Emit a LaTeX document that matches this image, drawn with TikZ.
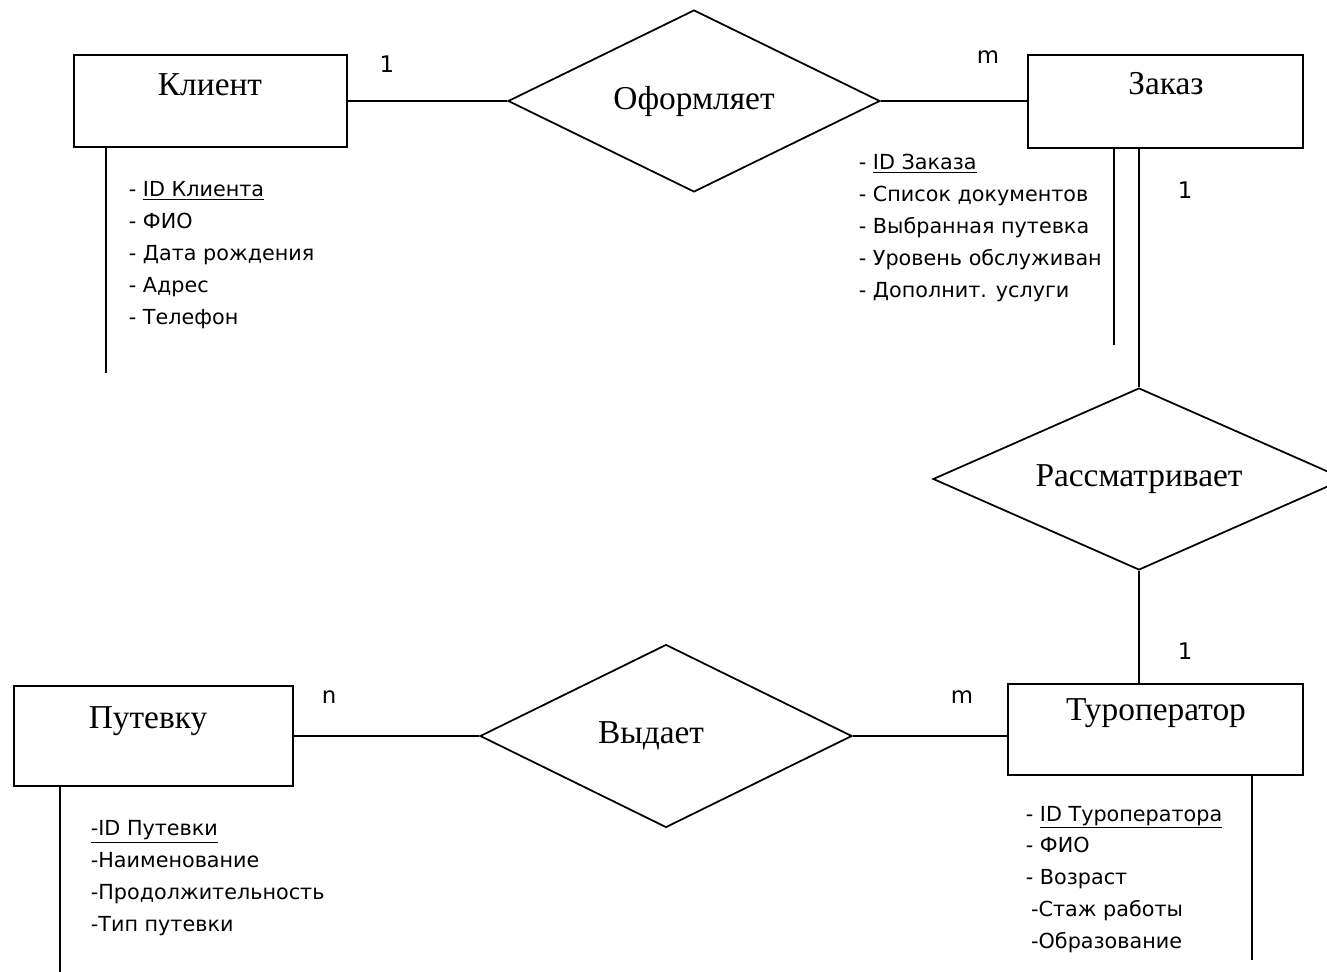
\documentclass[tikz,border=0pt]{standalone}
\usepackage{fontspec}
\setmainfont{Liberation Serif}
\newfontfamily\attrfont{DejaVu Sans}
\usetikzlibrary{shapes.geometric}

\begin{document}
\begin{tikzpicture}
[
    x=0.02cm, y=-0.02cm,
    line width=1pt,
    entity/.style={draw, rectangle, inner sep=0pt},
    relation/.style={draw, diamond, inner sep=0pt, font=\fontsize{19}{22}\selectfont},
    title/.style={font=\fontsize{19}{22}\selectfont, inner sep=0pt},
    attrs/.style={anchor=north west, align=left, inner sep=0pt,
        font=\attrfont\fontsize{11.8}{18.2}\selectfont},
    card/.style={font=\attrfont\fontsize{13}{14}\selectfont, inner sep=0pt},
]
\useasboundingbox (0,0) rectangle (1327,972);
\clip (0,0) rectangle (1327,972);

\node [entity, minimum width=5.46cm, minimum height=1.84cm] (klient) at (210.5,101) {};
\node [title] (klientT) at (210,85) {Клиент};
\node [entity, minimum width=5.5cm, minimum height=1.86cm] (zakaz) at (1165.5,101.5) {};
\node [title] (zakazT) at (1166,84) {Заказ};
\node [entity, minimum width=5.58cm, minimum height=2cm] (putevka) at (153.5,736) {};
\node [title] (putevkaT) at (148,721) {Путевку};
\node [entity, minimum width=5.9cm, minimum height=1.82cm] (tour) at (1155.5,729.5) {};
\node [title] (tourT) at (1156,713) {Туроператор};

\node [relation, aspect=2.04, minimum width=7.44cm, minimum height=3.64cm] (oform) at (694,101) {Оформляет};
\node [relation, aspect=2.26, minimum width=8.24cm, minimum height=3.64cm] (rassm) at (1139,479) {Рассматривает};
\node [relation, aspect=2.03, minimum width=7.44cm, minimum height=3.66cm] (vydaet) at (666,736) {\hspace*{-0.6cm}Выдает};

\draw (klient.east) -- (oform.west);
\draw (oform.east) -- (oform.east -| zakaz.west);
\draw (rassm.north |- zakaz.south) -- (rassm.north);
\draw (rassm.south) -- (rassm.south |- tour.north);
\draw (putevka.east) -- (putevka.east -| vydaet.west);
\draw (vydaet.east) -- (vydaet.east -| tour.west);

\coordinate (klientEnd) at (106,373);
\coordinate (zakazEnd) at (1114,345);
\coordinate (putevkaEnd) at (60,972);
\coordinate (tourEnd) at (1252,960);
\draw (klientEnd |- klient.south) -- (klientEnd);
\draw (zakazEnd |- zakaz.south) -- (zakazEnd);
\draw (putevkaEnd |- putevka.south) -- (putevkaEnd);
\draw (tourEnd |- tour.south) -- (tourEnd);

\node [card] (c1) at (387,64) {1};
\node [card] (c2) at (988,57) {m};
\node [card] (c3) at (1185,190) {1};
\node [card] (c4) at (1185,651) {1};
\node [card] (c5) at (962,697) {m};
\node [card] (c6) at (329,697) {n};

\node [attrs] (klientA) at (128,181)
{- \underline{ID Клиента}\\- ФИО\\- Дата рождения\\- Адрес\\- Телефон};
\node [attrs] (zakazA) at (858,153)
{- \underline{ID Заказа}\\- Список документов\\- Выбранная путевка\\- Уровень обслуживан\\- Дополнит. услуги};
\node [attrs] (putevkaA) at (90,820)
{\underline{-ID Путевки}\\-Наименование\\-Продолжительность\\-Тип путевки};
\node [attrs] (tourA) at (1025,805)
{- \underline{ID Туроператора}\\- ФИО\\- Возраст\\\hspace*{3pt}-Стаж работы\\\hspace*{3pt}-Образование};
\end{tikzpicture}
\end{document}
